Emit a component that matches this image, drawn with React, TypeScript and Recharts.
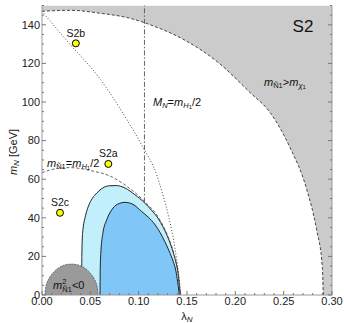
import React from 'react';
import { ComposedChart, Area, Line, Scatter, XAxis, YAxis, ReferenceLine } from 'recharts';

// m_N1 = m_chi1 boundary (grey region above it)
const outerLambda = [0, 0.03, 0.06, 0.09, 0.112, 0.146, 0.181, 0.215, 0.236, 0.256, 0.274, 0.284, 0.29, 0.291, 0.3];
const outerMass = [147, 147.5, 146, 143.5, 140, 132.5, 121, 105, 94.5, 77, 54.5, 34, 14.5, 0, 0];

// dotted curve
const dotLambda = [0, 0.027, 0.06, 0.09, 0.104, 0.1186, 0.125, 0.1306, 0.1375, 0.1427, 0.1437];
const dotMass = [147, 131, 112, 89, 77, 62.3, 52, 41.5, 24.4, 5, 0];

// m_N1 = m_H1/2
const halfLambda = [0, 0.015, 0.029, 0.05, 0.073, 0.09, 0.1065, 0.12, 0.1306, 0.1375, 0.141, 0.1432];
const halfMass = [63.4, 65.5, 66, 64.5, 61, 55.5, 48.3, 40.5, 30, 19.5, 10.5, 0];

// light blue region
const lightLambda = [0.041, 0.0412, 0.042, 0.045, 0.048, 0.052, 0.057, 0.063, 0.07, 0.077, 0.086, 0.096, 0.1065, 0.114, 0.12, 0.1255, 0.1306, 0.1345, 0.1375, 0.141, 0.1427, 0.1432];
const lightMass = [0, 20, 32, 41, 46, 50, 53, 55.5, 56.6, 56.7, 55.4, 52, 47.6, 43.5, 39.8, 35, 29.4, 24, 19, 10.4, 2, 0];

// dark blue region
const darkLambda = [0.06, 0.0603, 0.061, 0.063, 0.067, 0.072, 0.078, 0.0858, 0.094, 0.103, 0.11, 0.117, 0.122, 0.127, 0.1315, 0.1358, 0.1385, 0.1403, 0.1417, 0.142];
const darkMass = [0, 15, 23, 32, 39, 44, 47, 48, 47, 43.3, 40.3, 36.4, 32.5, 27.7, 22.8, 17.3, 12.5, 6.9, 1.5, 0];

// m^2_N1 < 0 region
const negLambda = [0.003, 0.0039, 0.0067, 0.0111, 0.0168, 0.0234, 0.0305, 0.0376, 0.0443, 0.0499, 0.0543, 0.0571, 0.058];
const negMass = [0, 4.1, 8, 11.3, 13.9, 15.5, 16, 15.5, 13.9, 11.3, 8, 4.1, 0];

// benchmark points
const ptNames = ['S2b', 'S2a', 'S2c'];
const ptLambda = [0.035, 0.0686, 0.0186];
const ptMass = [130.4, 67.9, 42.6];

const resonanceLambda = 0.106;
const resonanceFrom = 48;

const xMajorTicks = [0, 0.05, 0.1, 0.15, 0.2, 0.25, 0.3];
const yMajorTicks = [0, 20, 40, 60, 80, 100, 120, 140];
const xTicks = Array.from({ length: 31 }, (_, i) => i / 100);
const yTicks = Array.from({ length: 31 }, (_, i) => i * 5);

const zip = (xs: number[], ys: number[]) => xs.map((x, i) => ({ x, y: ys[i] }));

const outer = zip(outerLambda, outerMass);
const dotted = zip(dotLambda, dotMass);
const half = zip(halfLambda, halfMass);
const light = zip(lightLambda, lightMass);
const dark = zip(darkLambda, darkMass);
const neg = zip(negLambda, negMass);
const points = ptNames.map((name, i) => ({ x: ptLambda[i], y: ptMass[i], name }));
const background = [{ x: 0, y: 150 }, { x: 0.3, y: 150 }];

const FONT = '"Liberation Sans", Arial, sans-serif';
const frame = '#999';
const tickCol = '#777';

const isXMajor = (v: number) => xMajorTicks.some((t) => Math.abs(t - v) < 1e-6);
const isYMajor = (v: number) => yMajorTicks.includes(v);

const BottomTick = (p: any) => {
  const { x, y, payload } = p;
  const major = isXMajor(payload.value);
  return (
    <g>
      <line x1={x} x2={x} y1={y} y2={y - (major ? 4 : 2)} stroke={tickCol} />
      {major && (
        <text x={x} y={y + 10} textAnchor="middle" fontSize={11} fontFamily={FONT} fill="#222">
          {payload.value.toFixed(2)}
        </text>
      )}
    </g>
  );
};

const TopTick = (p: any) => {
  const { x, y, payload } = p;
  const major = isXMajor(payload.value);
  return <line x1={x} x2={x} y1={y} y2={y + (major ? 4 : 2)} stroke={tickCol} />;
};

const LeftTick = (p: any) => {
  const { x, y, payload } = p;
  const major = isYMajor(payload.value);
  return (
    <g>
      <line x1={x} x2={x + (major ? 4 : 2)} y1={y} y2={y} stroke={tickCol} />
      {major && (
        <text x={x - 2} y={y} dy="0.35em" textAnchor="end" fontSize={11} fontFamily={FONT} fill="#222">
          {payload.value}
        </text>
      )}
    </g>
  );
};

const RightTick = (p: any) => {
  const { x, y, payload } = p;
  const major = isYMajor(payload.value);
  return <line x1={x} x2={x - (major ? 4 : 2)} y1={y} y2={y} stroke={tickCol} />;
};

const PointShape = (p: any) => {
  const { cx, cy, payload } = p;
  return (
    <g>
      <circle cx={cx} cy={cy} r={3.5} fill="#ffff00" stroke="#000" strokeWidth={1} />
      <text x={cx} y={cy - 6.5} textAnchor="middle" fontSize={10.5} fontFamily={FONT} fill="#111">
        {payload.name}
      </text>
    </g>
  );
};

const sub = { fontSize: 7.5 };

// region labels drawn over the plot
const Labels = () => (
  <svg width={344} height={323} style={{ position: 'absolute', left: 0, top: 0, pointerEvents: 'none' }}>
    <text x={303} y={32} textAnchor="middle" fontSize={17} fontFamily={FONT} fill="#111">S2</text>

    <text x={153} y={106} fontSize={11} fontFamily={FONT} fill="#111">
      <tspan fontStyle="italic">M</tspan>
      <tspan fontStyle="italic" {...sub} dy={2}>N</tspan>
      <tspan dy={-2}>=</tspan>
      <tspan fontStyle="italic">m</tspan>
      <tspan fontStyle="italic" {...sub} dy={2}>H</tspan>
      <tspan fontSize={6} dy={1}>1</tspan>
      <tspan dy={-3}>/2</tspan>
    </text>

    <text x={47} y={167} fontSize={11} fontFamily={FONT} fill="#111">
      <tspan fontStyle="italic">m</tspan>
      <tspan {...sub} dy={2}>Ñ1</tspan>
      <tspan dy={-2}>=</tspan>
      <tspan fontStyle="italic">m</tspan>
      <tspan fontStyle="italic" {...sub} dy={2}>H</tspan>
      <tspan fontSize={6} dy={1}>1</tspan>
      <tspan dy={-3}>/2</tspan>
    </text>

    <text x={264} y={86} fontSize={11} fontFamily={FONT} fill="#111">
      <tspan fontStyle="italic">m</tspan>
      <tspan {...sub} dy={2}>Ñ1</tspan>
      <tspan dy={-2}>&gt;</tspan>
      <tspan fontStyle="italic">m</tspan>
      <tspan fontStyle="italic" {...sub} dy={2}>χ</tspan>
      <tspan fontSize={6} dy={1}>1</tspan>
    </text>

    <text x={53} y={289} fontSize={11} fontFamily={FONT} fill="#111">
      <tspan fontStyle="italic">m</tspan>
      <tspan fontSize={7.5} dy={-5}>2</tspan>
      <tspan fontSize={7.5} dx={-4} dy={8}>Ñ1</tspan>
      <tspan dy={-3}>&lt;0</tspan>
    </text>
  </svg>
);

export default function App() {
  return (
    <div style={{ position: 'absolute', left: 0, top: 0, width: 344, height: 323, background: '#fff' }}>
      <ComposedChart width={344} height={323} margin={{ top: 5.5, right: 0, bottom: 0, left: 0 }}>
        <XAxis
          xAxisId={0}
          dataKey="x"
          type="number"
          domain={[0, 0.3]}
          ticks={xTicks}
          interval={0}
          height={28}
          tickSize={0}
          tickMargin={0}
          tick={<BottomTick />}
          axisLine={{ stroke: frame }}
          allowDataOverflow
        />
        <XAxis
          xAxisId="top"
          orientation="top"
          dataKey="x"
          type="number"
          domain={[0, 0.3]}
          ticks={xTicks}
          interval={0}
          height={0}
          tickSize={0}
          tickMargin={0}
          tick={<TopTick />}
          axisLine={{ stroke: frame }}
          allowDataOverflow
        />
        <YAxis
          yAxisId={0}
          type="number"
          domain={[0, 150]}
          ticks={yTicks}
          interval={0}
          width={42}
          tickSize={0}
          tickMargin={0}
          tick={<LeftTick />}
          axisLine={{ stroke: frame }}
          allowDataOverflow
        />
        <YAxis
          yAxisId="right"
          orientation="right"
          type="number"
          domain={[0, 150]}
          ticks={yTicks}
          interval={0}
          width={12}
          tickSize={0}
          tickMargin={0}
          tick={<RightTick />}
          axisLine={{ stroke: frame }}
          allowDataOverflow
        />

        <Area data={background} dataKey="y" type="linear" fill="#cbcbcb" fillOpacity={1} stroke="none" isAnimationActive={false} />
        <Area data={outer} dataKey="y" type="monotone" fill="#fff" fillOpacity={1} stroke="none" isAnimationActive={false} />
        <Line data={outer.slice(0, -1)} dataKey="y" type="monotone" stroke="#333" strokeWidth={0.9} strokeDasharray="3 2" dot={false} isAnimationActive={false} />

        <Area data={light} dataKey="y" type="monotone" fill="#c2effc" fillOpacity={1} stroke="#222" strokeWidth={1} isAnimationActive={false} />
        <Area data={dark} dataKey="y" type="monotone" fill="#80c6f6" fillOpacity={1} stroke="#222" strokeWidth={1} isAnimationActive={false} />
        <Area data={neg} dataKey="y" type="monotone" fill="#9a9a9a" fillOpacity={1} stroke="#666" strokeWidth={1} strokeDasharray="2 1" isAnimationActive={false} />

        <Line data={half} dataKey="y" type="monotone" stroke="#555" strokeWidth={0.9} strokeDasharray="3 2" dot={false} isAnimationActive={false} />
        <Line data={dotted} dataKey="y" type="monotone" stroke="#444" strokeWidth={1} strokeDasharray="1 2" dot={false} isAnimationActive={false} />

        <ReferenceLine
          segment={[{ x: resonanceLambda, y: resonanceFrom }, { x: resonanceLambda, y: 150 }]}
          stroke="#555"
          strokeWidth={0.9}
          strokeDasharray="5 2 1.5 2"
        />

        <Scatter data={points} dataKey="y" shape={<PointShape />} isAnimationActive={false} />

        <text x={187} y={320} textAnchor="middle" fontSize={11} fontFamily={FONT} fill="#222">
          <tspan>λ</tspan>
          <tspan fontStyle="italic" fontSize={8} dy={2}>N</tspan>
        </text>

        <text x={17} y={152} transform="rotate(-90, 17, 152)" textAnchor="middle" fontSize={11} fontFamily={FONT} fill="#222">
          <tspan fontStyle="italic">m</tspan>
          <tspan fontStyle="italic" fontSize={8} dy={2}>N</tspan>
          <tspan dy={-2}> [GeV]</tspan>
        </text>
      </ComposedChart>
      <Labels />
    </div>
  );
}
